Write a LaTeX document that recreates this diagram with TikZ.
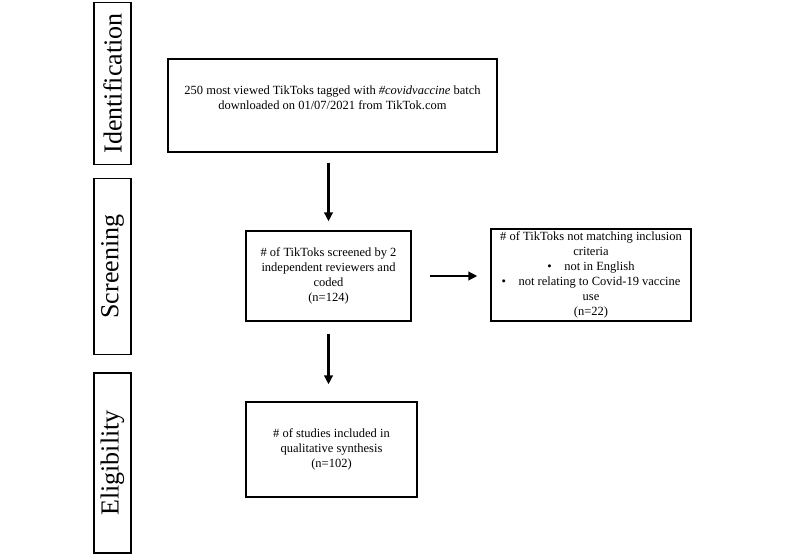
\documentclass[tikz,border=0pt]{standalone}
\usepackage{fontspec}
\setmainfont{Liberation Serif}
\usetikzlibrary{arrows.meta}

\begin{document}
\begin{tikzpicture}[x=1pt, y=-1pt,
        every node/.style={draw, line width=1.3pt, inner sep=2pt, align=center, font=\fontsize{12.5}{15}\selectfont},
        phase/.style={rotate=90, minimum height=37pt, font=\fontsize{26}{30}\selectfont},
        every path/.style={line width=1.3pt},
        flow/.style={line width=2.8pt, -{Triangle[length=9pt, width=8.5pt]}}]

        \useasboundingbox (0,0) rectangle (800,555);

        \node[phase, minimum width=162pt] (p1) at (112.5,83.5) {Identification};
        \node[phase, minimum width=176pt] (p2) at (112.5,266.5) {Screening};
        \node[phase, minimum width=180pt] (p3) at (112.5,463) {Eligibility};

        \node[minimum width=329pt, minimum height=93pt] (1) at (332.5,105.5) {250 most viewed TikToks tagged with \textit{\#covidvaccine} batch\\ downloaded on 01/07/2021 from TikTok.com\\ \mbox{}};
        \node[minimum width=165pt, minimum height=90pt] (2) at (328.5,276) {\# of TikToks screened by 2\\ independent reviewers and\\ coded\\ (n=124)};
        \node[minimum width=200pt, minimum height=92pt] (3) at (591,275) {\# of TikToks not matching inclusion\\ criteria\\ \textbullet\quad not in English\\ \textbullet\quad not relating to Covid-19 vaccine\\ use\\ (n=22)};
        \node[minimum width=171pt, minimum height=95pt] (4) at (331.5,449.5) {\# of studies included in\\ qualitative synthesis\\ (n=102)};

        \draw[flow, shorten <=10pt, shorten >=9pt] (2.north |- 1.south) to (2.north);
        \draw[flow, shorten <=18pt, shorten >=13pt] (2.east) to (3.west |- 2.east);
        \draw[flow, shorten <=12pt, shorten >=17pt] (2.south) to (4.north -| 2.south);

        \end{tikzpicture}
\end{document}
